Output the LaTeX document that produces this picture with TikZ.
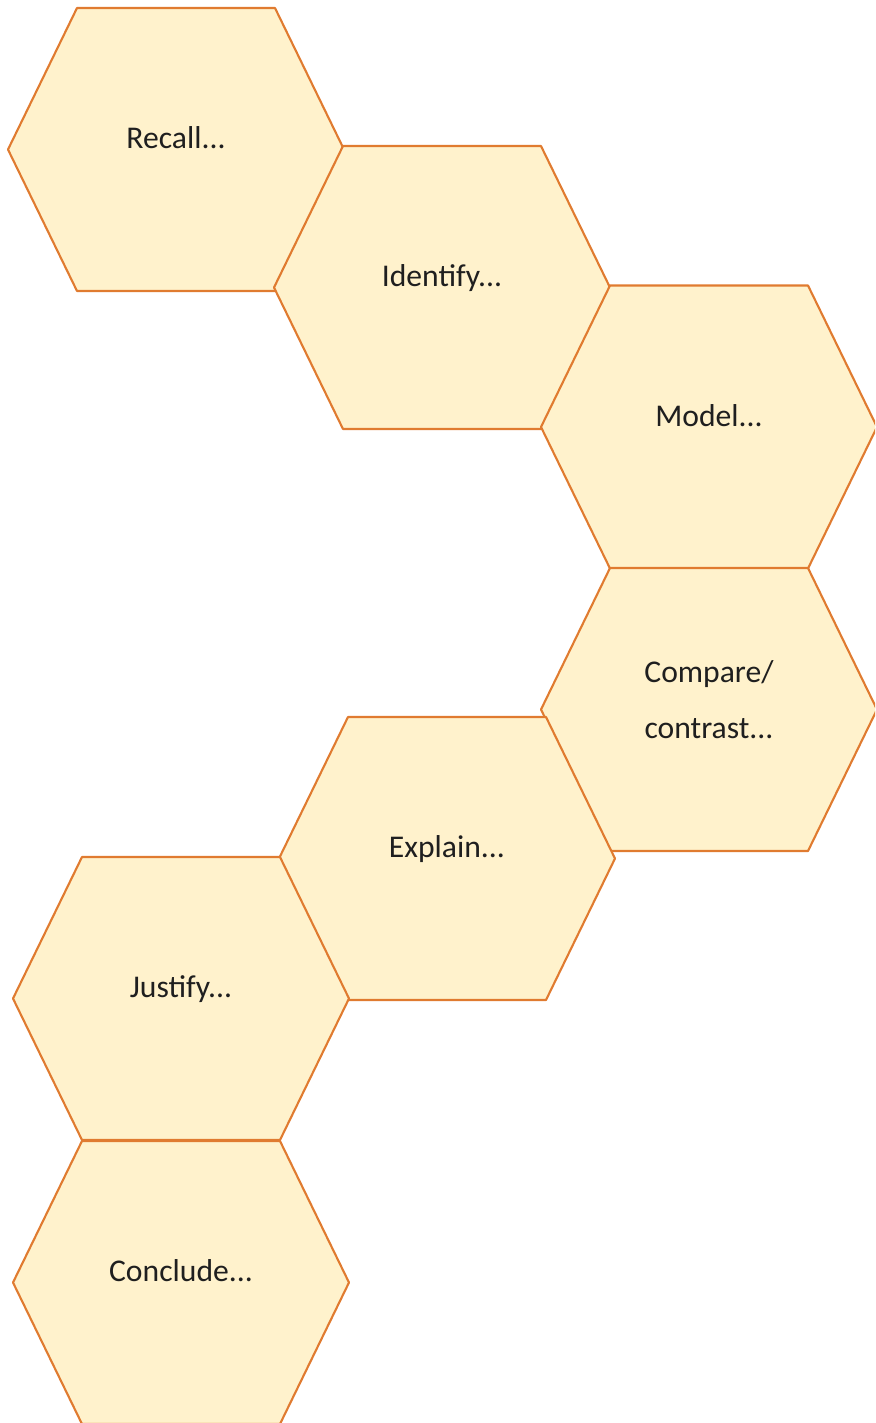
\documentclass[tikz,border=0pt]{standalone}
\usepackage{fontspec}
\setmainfont{Carlito}

\definecolor{hexfill}{HTML}{FFF2CC}
\definecolor{hexedge}{HTML}{E07B30}

\tikzset{
  hexcell/.style={draw=hexedge, fill=hexfill, line width=1.2pt, line join=round},
  hexlabel/.style={font=\fontsize{18}{32}\selectfont, text=black!88, align=center,
    text height=0.75em, text depth=0.25em, inner sep=0pt}
}

\begin{document}
\begin{tikzpicture}[x=0.2mm, y=-0.2mm]
    \useasboundingbox (0,0) rectangle (875,1423);
    \clip (0,0) rectangle (875,1423);

    % Honeycomb cells: centre x / centre y / label shift / name / label
    \foreach \cx/\cy/\dy/\nm/\txt in {
        176/149.5/-5/recall/{Recall...},
        442/287.5/-5/identify/{Identify...},
        709/427/-5/model/{Model...},
        709/709.5/25/compare/{Compare/\\contrast...},
        447/858.5/-5/explain/{Explain...},
        181/998.5/-5/justify/{Justify...},
        181/1282.5/-5/conclude/{Conclude...}}{
        \draw[hexcell] (\cx-99,\cy-141.5) -- (\cx+99,\cy-141.5) -- (\cx+168,\cy)
            -- (\cx+99,\cy+141.5) -- (\cx-99,\cy+141.5) -- (\cx-168,\cy) -- cycle;
        \node[hexlabel] (\nm) at (\cx,\cy+\dy) {\txt};
    }
\end{tikzpicture}
\end{document}
